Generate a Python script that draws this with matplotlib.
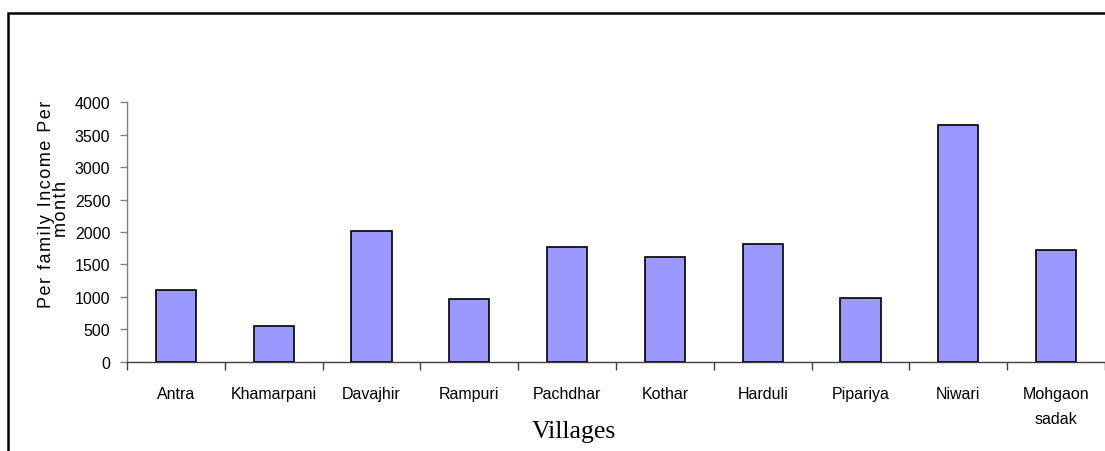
from __future__ import annotations

import matplotlib

matplotlib.use("Agg")
import matplotlib.pyplot as plt
from matplotlib.patches import Rectangle

VILLAGES = [
    "Antra", "Khamarpani", "Davajhir", "Rampuri", "Pachdhar",
    "Kothar", "Harduli", "Pipariya", "Niwari", "Mohgaon\nsadak",
]
INCOME = [1110, 555, 2015, 967, 1770, 1614, 1820, 987, 3645, 1718]
Y_TICKS = [0, 500, 1000, 1500, 2000, 2500, 3000, 3500, 4000]

BAR_COLOR = "#9999FF"
NARROW = ["Liberation Sans Narrow", "Liberation Sans", "DejaVu Sans"]
SERIF = ["Liberation Serif", "DejaVu Serif"]
HAIR = "\u200a"


def spaced(text: str) -> str:
    """Open up the letters a little, like the old spreadsheet rendering."""
    return HAIR.join(text)


def draw_chart(output_path: str = "out.png") -> None:
    fig = plt.figure(figsize=(11.05, 4.52), dpi=100)
    ax = fig.add_axes([127 / 1105, 1 - 362.7 / 452, 1 - 127 / 1105, (362.7 - 103.3) / 452])

    positions = [i + 0.5 for i in range(len(VILLAGES))]
    ax.bar(positions, INCOME, width=0.41, color=BAR_COLOR,
           edgecolor="black", linewidth=1.2, zorder=3)

    ax.set_xlim(0, len(VILLAGES))
    ax.set_ylim(0, 4000)

    # category boundaries carry the tick marks, labels sit between them
    ax.set_xticks(range(len(VILLAGES) + 1))
    ax.set_xticklabels([])
    ax.set_xticks(positions, minor=True)
    ax.set_xticklabels(VILLAGES, minor=True, family=NARROW, fontsize=11.5,
                       linespacing=1.8)
    ax.tick_params(axis="x", which="major", direction="out", length=6,
                   width=1, color="#404040")
    ax.tick_params(axis="x", which="minor", length=0, pad=17.5)

    ax.set_yticks(Y_TICKS)
    ax.set_yticklabels([str(v) for v in Y_TICKS], family=NARROW, fontsize=11.5)
    ax.tick_params(axis="y", direction="out", length=5, width=1,
                   color="#808080", pad=7)

    for side in ("top", "right"):
        ax.spines[side].set_visible(False)
    ax.spines["left"].set_color("#808080")
    ax.spines["bottom"].set_color("#404040")
    ax.spines["left"].set_linewidth(1)
    ax.spines["bottom"].set_linewidth(1)

    # y axis title in two tight lines, placed by baseline
    fig.text(51 / 1105, 1 - 204 / 452, spaced("Per family Income Per"),
             rotation=90, rotation_mode="anchor", ha="center", va="baseline",
             family=NARROW, fontsize=13)
    fig.text(66 / 1105, 1 - 209 / 452, spaced("month"),
             rotation=90, rotation_mode="anchor", ha="center", va="baseline",
             family=NARROW, fontsize=13)

    fig.text(574 / 1105, 1 - 438 / 452, "Villages", ha="center",
             va="baseline", family=SERIF, fontsize=18.5)

    # outer chart border
    fig.add_artist(Rectangle((8 / 1105, -0.2), 2.0, 1.2 - 14 / 452,
                             transform=fig.transFigure, fill=False,
                             edgecolor="black", linewidth=1.8))

    fig.savefig(output_path, dpi=100)
    plt.close(fig)


if __name__ == "__main__":
    draw_chart()
